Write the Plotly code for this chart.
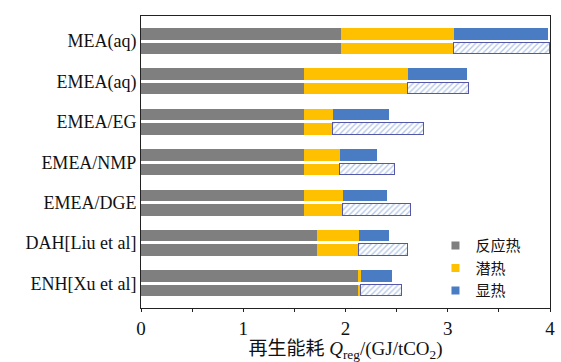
import plotly.graph_objects as go

# Regeneration energy breakdown per absorbent system (GJ/tCO2)
categories = ["MEA(aq)", "EMEA(aq)", "EMEA/EG", "EMEA/NMP", "EMEA/DGE",
              "DAH[Liu et al]", "ENH[Xu et al]"]
reaction_heat = [1.96, 1.59, 1.59, 1.59, 1.59, 1.72, 2.12]
latent_heat = [1.10, 1.02, 0.29, 0.36, 0.39, 0.41, 0.03]
sensible_heat_a = [0.92, 0.58, 0.55, 0.36, 0.43, 0.30, 0.30]
sensible_heat_b = [0.94, 0.60, 0.89, 0.53, 0.66, 0.48, 0.40]

legend_names = ["反应热", "潜热", "显热"]
GRAY, YELLOW, BLUE = "#7f7f7f", "#ffc000", "#4a7cc4"
SERIF = "Liberation Serif, Noto Sans CJK SC"

idx = list(range(len(categories)))
y_top = [i - 0.18 for i in idx]
y_bot = [i + 0.18 for i in idx]
BW = 0.285

fig = go.Figure()

def add_bar(x, y, color):
    fig.add_trace(go.Bar(x=x, y=y, orientation="h", width=BW,
                         marker=dict(color=color, line=dict(width=0)),
                         showlegend=False, hoverinfo="x"))

# upper bar of each pair
add_bar(reaction_heat, y_top, GRAY)
add_bar(latent_heat, y_top, YELLOW)
add_bar(sensible_heat_a, y_top, BLUE)
# lower bar of each pair (hatched sensible heat)
add_bar(reaction_heat, y_bot, GRAY)
add_bar(latent_heat, y_bot, YELLOW)
fig.add_trace(go.Bar(
    x=sensible_heat_b, y=y_bot, orientation="h", width=BW, showlegend=False,
    hoverinfo="x",
    marker=dict(color="white",
                line=dict(color="#5358a8", width=1),
                pattern=dict(shape="/", fgcolor="#6f93d0", bgcolor="white",
                             size=4, solidity=0.35)),
))

# legend entries
for name, col in zip(legend_names, [GRAY, YELLOW, BLUE]):
    fig.add_trace(go.Scatter(x=[None], y=[None], mode="markers", name=name,
                             marker=dict(symbol="square", size=8, color=col)))

fig.update_layout(
    width=561, height=362,
    barmode="stack",
    bargap=0,
    plot_bgcolor="white", paper_bgcolor="white",
    margin=dict(l=141, r=6, t=16, b=54),
    font=dict(family=SERIF, size=18, color="#111"),
    legend=dict(x=0.72, y=0.27, xanchor="left", yanchor="top",
                traceorder="normal",
                bgcolor="rgba(0,0,0,0)",
                font=dict(size=15, family="Noto Sans CJK SC"),
                tracegroupgap=0),
    xaxis=dict(range=[0, 4], tick0=0, dtick=1,
               ticks="outside", ticklen=3, tickcolor="#222",
               minor=dict(dtick=0.5, ticks="outside", ticklen=3, tickcolor="#222"),
               showline=True, linecolor="#222", linewidth=1, mirror=True,
               showgrid=False, zeroline=False,
               ticklabeloverflow="allow",
               tickfont=dict(family=SERIF, size=19),
               title=dict(text="再生能耗 <i>Q</i><sub>reg</sub>/(GJ/tCO<sub>2</sub>)",
                          font=dict(family=SERIF, size=19), standoff=4)),
    yaxis=dict(range=[6.61, -0.62], tickvals=idx, ticktext=categories,
               ticks="", showline=True, linecolor="#222", linewidth=1, mirror=True,
               showgrid=False, zeroline=False,
               tickfont=dict(family=SERIF, size=18)),
)

fig.write_html("out.html")
